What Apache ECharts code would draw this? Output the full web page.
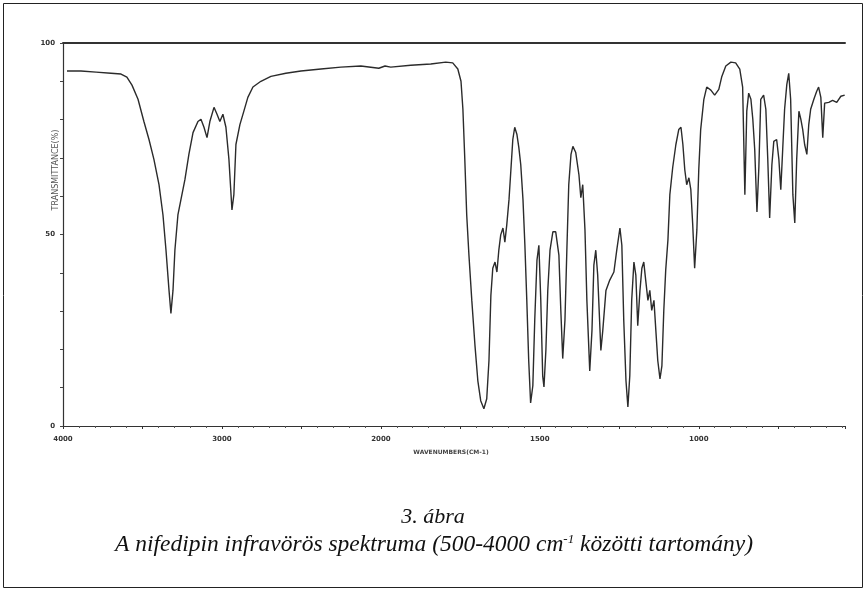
<!DOCTYPE html>
<html>
<head>
<meta charset="utf-8">
<script src="https://cdn.jsdelivr.net/npm/echarts@6/dist/echarts.min.js"></script>
<style>
html,body{margin:0;padding:0;background:#fff;}
#chart{width:867px;height:592px;}
</style>
</head>
<body>
<div id="chart"></div>
<script>
// Wavenumber (cm-1) and transmittance (%)
const wavenumbers = [3975,3887,3792,3698,3635,3598,3566,3528,3491,3459,3428,3396,3371,3352,3333,3321,3308,3296,3277,3258,3233,3208,3182,3151,3132,3113,3094,3076,3050,3031,3013,2994,2975,2956,2937,2925,2912,2887,2862,2837,2805,2755,2692,2598,2503,2377,2252,2126,2013,
1987,1969,1906,1843,1796,1774,1758,1748,1742,1736,1730,1723,1714,1704,1695,1686,1676,1667,1660,1654,1648,1641,1635,1629,1623,1616,1610,1604,1597,1591,1585,1579,1572,1566,1560,1553,1547,1541,1535,1529,1522,1516,1509,1503,1497,1491,1487,1481,1475,1468,1459,1450,1440,1434,1428,1421,1415,1409,1402,1396,1387,1377,1371,1365,1358,1352,1343,1336,1330,1324,1318,1308,1302,1292,1280,1267,1258,1248,1242,1236,1229,1223,1217,1211,1204,1198,1192,1185,1179,1173,1167,1160,1154,1148,1141,1135,1129,1122,1116,1110,1104,1097,1091,1082,1072,1063,1056,1050,1044,1038,1031,1025,1019,1013,1006,1000,994,984,975,962,950,937,928,915,899,884,871,862,855,849,843,836,830,824,817,811,805,796,789,783,777,770,764,755,748,742,736,730,723,717,711,704,698,692,685,679,673,667,660,654,648,638,629,623,616,610,604,591,579,566,553,541];
const transmittance = [92.7,92.7,92.4,92.1,91.9,91.1,89.0,85.3,79.5,74.8,69.6,63.0,55.1,45.9,35.4,29.4,35.4,45.9,55.1,59.1,64.3,70.9,76.6,79.5,80.1,78.0,75.3,79.5,83.2,81.4,79.5,81.4,78.0,69.6,56.4,60.4,73.5,78.7,82.2,85.8,88.5,90.0,91.3,92.1,92.7,93.2,93.7,94.0,93.4,
94.0,93.7,94.2,94.5,95.0,94.8,93.2,90.0,82.7,69.6,55.1,44.6,32.8,21.0,11.8,6.6,4.5,7.1,17.1,34.1,41.2,42.8,40.2,45.9,49.9,51.7,48.0,52.5,59.1,66.9,74.8,78.0,76.1,72.7,68.2,59.1,47.2,32.8,17.1,6.0,10.5,27.6,43.3,47.2,32.8,13.1,10.2,19.7,35.4,45.9,50.7,50.7,44.6,30.2,17.6,27.6,45.9,63.0,70.9,73.0,71.4,65.6,59.6,63.0,51.2,32.8,14.4,24.9,42.0,45.9,39.4,19.7,24.9,35.4,38.1,40.2,45.9,51.7,47.2,27.6,11.8,5.0,13.1,32.8,42.8,39.4,26.2,35.4,41.2,42.8,38.1,32.8,35.4,30.2,32.8,24.9,17.1,12.3,15.7,30.2,40.7,48.6,60.4,67.5,73.5,77.4,78.0,73.5,66.9,63.0,64.8,61.7,52.5,41.2,51.2,66.9,77.4,85.3,88.5,87.7,86.4,87.9,91.1,94.0,95.0,94.8,93.2,88.5,60.4,82.2,86.9,85.3,80.1,72.2,55.9,67.5,85.3,86.4,82.7,69.8,54.3,68.2,74.3,74.8,69.6,61.7,72.2,82.7,89.2,92.1,85.3,60.4,53.0,69.6,82.2,80.1,77.4,73.5,70.9,78.7,82.7,85.3,87.4,88.5,85.8,75.3,84.3,84.5,85.0,84.5,86.1,86.4];
const xTickLabels = [4000,3000,2000,1500,1000];
const yTickLabels = [0,50,100];
const xAxisEnd = 540;

// Spectrometer x scale: 4000-2000 at 1000 cm-1 per unit, below 2000 at 500 cm-1 per unit
function toUnit(w){ return w >= 2000 ? (4000 - w) / 1000 : 2 + (2000 - w) / 500; }
function toWave(u){ return u <= 2 ? 4000 - 1000 * u : 2000 - 500 * (u - 2); }

const seriesData = wavenumbers.map((w, i) => [toUnit(w), transmittance[i]]);

const chart = echarts.init(document.getElementById('chart'));
chart.setOption({
  animation: false,
  backgroundColor: '#fff',
  grid: {left: 63, right: 22, top: 43, bottom: 166},
  xAxis: [{
    type: 'value', min: 0, max: toUnit(xAxisEnd), interval: 0.5,
    axisLine: {lineStyle: {color: '#333', width: 1.2}},
    axisTick: {length: 3, lineStyle: {color: '#333'}},
    minorTick: {show: true, splitNumber: 5, length: 2, lineStyle: {color: '#555'}},
    splitLine: {show: false},
    axisLabel: {
      fontSize: 7, fontWeight: 'bold', color: '#333', margin: 10, fontFamily: 'DejaVu Sans',
      formatter: function(v){
        const w = Math.round(toWave(v));
        return xTickLabels.indexOf(w) >= 0 ? String(w) : '';
      }
    }
  },{
    type: 'value', position: 'top', min: 0, max: toUnit(xAxisEnd),
    axisLine: {show: true, lineStyle: {color: '#333', width: 2}},
    axisTick: {show: false}, axisLabel: {show: false}, splitLine: {show: false}
  }],
  yAxis: {
    type: 'value', min: 0, max: 100, interval: 10,
    axisLine: {show: true, lineStyle: {color: '#333', width: 1.2}},
    axisTick: {show: true, length: 3, lineStyle: {color: '#444'}},
    splitLine: {show: false},
    axisLabel: {
      fontSize: 7, fontWeight: 'bold', color: '#333', margin: 8, fontFamily: 'DejaVu Sans',
      formatter: function(v){ return yTickLabels.indexOf(v) >= 0 ? String(v) : ''; }
    }
  },
  series: [{
    type: 'line', data: seriesData, showSymbol: false, symbol: 'none',
    lineStyle: {color: '#2b2b2b', width: 1.4}
  }],
  graphic: [
    {type: 'rect', shape: {x: 3.5, y: 3.5, width: 859, height: 584}, style: {fill: 'none', stroke: '#222', lineWidth: 1}},
    {type: 'text', x: 451, y: 452, style: {text: 'WAVENUMBERS(CM-1)', fontSize: 6, fontWeight: 'bold', fill: '#444', fontFamily: 'DejaVu Sans', textAlign: 'center', textVerticalAlign: 'middle'}},
    {type: 'text', x: 56, y: 170, rotation: Math.PI / 2, style: {text: 'TRANSMITTANCE(%)', fontSize: 8, fill: '#555', fontFamily: 'DejaVu Sans', textAlign: 'center', textVerticalAlign: 'middle'}},
    {type: 'text', x: 433, y: 517, style: {text: '3. ábra', fontSize: 22, fontStyle: 'italic', fill: '#111', fontFamily: 'Liberation Serif', textAlign: 'center', textVerticalAlign: 'middle'}},
    {type: 'text', x: 434, y: 545, style: {
      rich: {
        t: {fontSize: 23.5, fontStyle: 'italic', fill: '#111', fontFamily: 'Liberation Serif'},
        s: {fontSize: 13, fontStyle: 'italic', fill: '#111', fontFamily: 'Liberation Serif', verticalAlign: 'top', padding: [0, 0, 10, 0]}
      },
      text: '{t|A nifedipin infravörös spektruma (500-4000 cm}{s|-1}{t| közötti tartomány)}',
      textAlign: 'center', textVerticalAlign: 'middle'}}
  ]
});
</script>
</body>
</html>
